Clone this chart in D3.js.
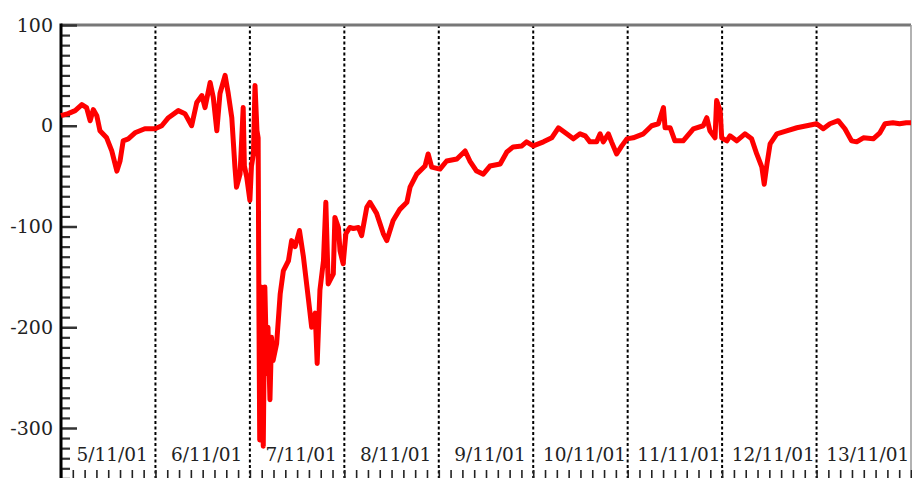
<!DOCTYPE html>
<html>
<head>
<meta charset="utf-8">
<script src="https://cdn.jsdelivr.net/npm/d3@7"></script>
<style>
  body { margin: 0; background: #fff; }
  svg { display: block; }
  text { font-family: "DejaVu Serif", serif; fill: #222; }
</style>
</head>
<body>
<div id="chart"></div>
<script>
// hours since 5/11/01 00:00
const hours = [
  0.0, 1.8, 3.6, 5.3, 6.5, 7.4, 8.2, 9.1, 9.9, 11.6, 12.9, 14.2, 15.0, 15.8, 17.1, 18.8, 21.3, 23.9,
  25.6, 27.3, 29.8, 31.5, 33.2, 34.5, 35.8, 36.6, 37.9, 38.7, 39.6, 40.4, 41.7, 42.5, 43.4, 44.2,
  44.6, 45.5, 46.3, 46.6, 47.2, 48.0, 48.4, 48.9, 49.3, 49.8, 50.1, 50.3, 50.5, 50.9, 51.4, 51.8,
  52.3, 52.6, 53.1, 53.5, 53.9, 54.8, 55.7, 56.5, 57.8, 58.6, 59.5, 60.6, 61.6, 62.9, 63.7, 64.6,
  65.1, 65.8, 66.7, 67.3, 67.9, 69.2, 69.6, 70.5, 70.9, 71.7, 72.4, 73.4, 74.3, 75.6, 76.4, 77.7,
  78.5, 80.2, 81.9, 82.8, 84.4, 86.1, 87.9, 88.7, 90.4, 92.5, 93.3, 94.2, 96.3, 98.0, 100.6, 102.7,
  103.9, 105.6, 107.3, 109.0, 111.6, 113.3, 114.9, 117.1, 118.3, 120.0, 122.6, 124.7, 126.4, 128.5,
  130.2, 131.9, 133.2, 134.4, 136.1, 137.0, 137.8, 139.1, 139.9, 141.2, 142.5, 143.8, 145.4, 148.0,
  150.1, 151.8, 153.1, 153.5, 154.8, 156.0, 158.1, 160.7, 163.2, 164.1, 164.9, 166.2, 166.6, 167.5,
  167.9, 169.2, 170.0, 171.7, 173.8, 175.5, 176.8, 178.1, 178.7, 179.4, 180.2, 181.9, 184.4, 187.0,
  189.5, 192.0, 193.7, 195.4, 197.5, 199.2, 200.9, 202.2, 203.9, 206.4, 208.1, 209.4, 211.4, 213.1,
  214.8, 216.0
];
const values = [
  10, 12, 15, 21, 18, 5, 16, 10, -5, -12, -25, -45, -35, -15, -13, -7, -3, -3,
  0, 8, 15, 12, 0, 23, 30, 18, 43, 28, -5, 32, 50, 32, 8, -41,
  -61, -48, 18, -40, -51, -74, -40, -28, 40, -5, -12, -186, -312, -160, -318, -160,
  -246, -200, -272, -210, -233, -216, -167, -144, -134, -114, -120, -104, -130, -173, -200, -186,
  -236, -163, -134, -76, -157, -147, -91, -101, -124, -137, -107, -101, -102, -101, -109, -81,
  -76, -87, -107, -114, -94, -83, -76, -61, -48, -40, -28, -41, -43, -35, -33, -25,
  -35, -45, -48, -40, -38, -26, -21, -20, -16, -20, -16, -12, -2, -8,
  -13, -8, -10, -16, -16, -8, -16, -8, -16, -28, -20, -13, -12, -8,
  0, 2, 18, -2, -2, -15, -15, -3, 0, 8, -5, -12, 25, 15,
  -12, -15, -10, -15, -8, -13, -28, -41, -58, -38, -18, -8, -5, -2,
  0, 2, -3, 2, 5, -3, -15, -16, -12, -13, -7, 2, 3, 2,
  3, 3
];
const dayLabels = ["5/11/01", "6/11/01", "7/11/01", "8/11/01", "9/11/01",
  "10/11/01", "11/11/01", "12/11/01", "13/11/01"];
const yMajorTicks = [100, 0, -100, -200, -300];

const width = 912, height = 478;
const plot = { left: 61, right: 911, top: 25, bottom: 480 };

const start = new Date(2001, 10, 5);
const end = new Date(2001, 10, 14);
const data = hours.map((h, i) => ({
  date: new Date(start.getTime() + h * 3600e3),
  value: values[i]
}));

const svg = d3.select("#chart").append("svg")
  .attr("width", width)
  .attr("height", height);

svg.append("rect")
  .attr("width", width)
  .attr("height", height)
  .attr("fill", "#fff");

const x = d3.scaleTime().domain([start, end]).range([plot.left, plot.right]);
const y = d3.scaleLinear().domain([-300, 100]).range([428, 25]);

// day separators
const days = d3.timeDay.range(d3.timeDay.offset(start, 1), end);
svg.append("g")
  .selectAll("line")
  .data(days)
  .join("line")
    .attr("x1", d => x(d)).attr("x2", d => x(d))
    .attr("y1", plot.top).attr("y2", height)
    .attr("stroke", "#000")
    .attr("stroke-width", 2)
    .attr("stroke-dasharray", "3,2.5");

// frame: top and right
svg.append("line")
  .attr("x1", plot.left).attr("x2", plot.right)
  .attr("y1", plot.top).attr("y2", plot.top)
  .attr("stroke", "#777").attr("stroke-width", 3);
svg.append("line")
  .attr("x1", plot.right).attr("x2", plot.right)
  .attr("y1", plot.top).attr("y2", height)
  .attr("stroke", "#999").attr("stroke-width", 1.5);

// bottom minor ticks (every 3 hours)
const xAxis = svg.append("g")
  .attr("transform", `translate(0,${plot.bottom})`)
  .call(d3.axisBottom(x)
    .ticks(d3.timeHour.every(3))
    .tickSize(-10)
    .tickFormat(""));
xAxis.select(".domain").remove();
xAxis.selectAll("line").attr("stroke", "#222").attr("stroke-width", 1.6);

// date labels
svg.append("g")
  .selectAll("text")
  .data(dayLabels)
  .join("text")
    .attr("x", (d, i) => x(d3.timeHour.offset(start, i * 24 + 12)) + 4)
    .attr("y", 461)
    .attr("text-anchor", "middle")
    .style("font-size", "18.5px")
    .text(d => d);

// left axis: minor ticks
const minorTicks = d3.range(-350, 101, 10).filter(v => v % 100 !== 0);
const yMinor = svg.append("g")
  .attr("transform", `translate(${plot.left},0)`)
  .call(d3.axisLeft(y).tickValues(minorTicks).tickSize(-9).tickFormat(""));
yMinor.select(".domain").remove();
yMinor.selectAll("line").attr("stroke", "#333").attr("stroke-width", 2.2);

const yMajor = svg.append("g")
  .attr("transform", `translate(${plot.left},0)`)
  .call(d3.axisLeft(y).tickValues(yMajorTicks).tickSize(-16).tickPadding(8)
    .tickFormat(d => String(d)));
yMajor.select(".domain").remove();
yMajor.selectAll("line").attr("stroke", "#333").attr("stroke-width", 2.5);
yMajor.selectAll("text")
  .style("font-family", "'DejaVu Serif', serif")
  .style("font-size", "19px")
  .attr("fill", "#222");

svg.append("line")
  .attr("x1", plot.left).attr("x2", plot.left)
  .attr("y1", plot.top - 1.5).attr("y2", height)
  .attr("stroke", "#000").attr("stroke-width", 3);

// the series
const line = d3.line()
  .x(d => x(d.date))
  .y(d => y(d.value));

svg.append("path")
  .datum(data)
  .attr("fill", "none")
  .attr("stroke", "#ff0000")
  .attr("stroke-width", 5)
  .attr("stroke-linejoin", "round")
  .attr("d", line);
</script>
</body>
</html>
